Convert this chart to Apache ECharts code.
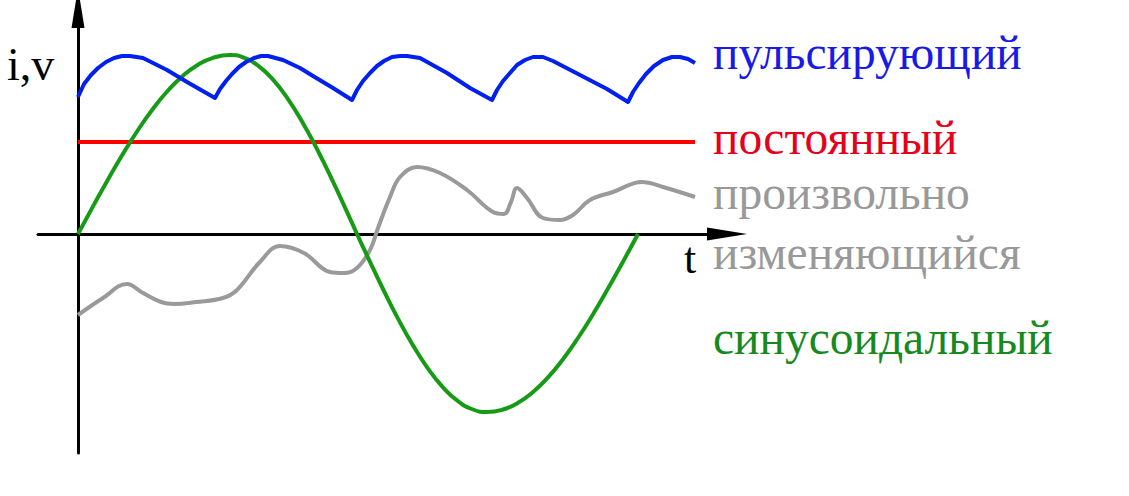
<!DOCTYPE html>
<html>
<head>
<meta charset="utf-8">
<script src="https://cdn.jsdelivr.net/npm/echarts@6/dist/echarts.min.js"></script>
<style>
html,body{margin:0;padding:0;background:#fff;}
#chart{width:1129px;height:496px;}
</style>
</head>
<body>
<div id="chart"></div>
<script>
// t (time units), value pairs
const pulsating = [
  [0,13.7],[0.6,15.0],[1.3,15.9],[2.0,16.6],[2.8,17.2],[3.6,17.6],[4.4,17.8],[5.2,17.8],
  [6.5,17.6],[8.9,16.4],[10.9,15.2],[13.7,13.6],
  [14.2,14.5],[14.8,15.3],[15.4,16.0],[16.1,16.7],[16.8,17.2],[17.6,17.6],[18.3,17.8],[19.0,17.8],
  [20.5,17.4],[22.2,16.6],[23.5,15.8],[25.5,14.6],[27.4,13.4],
  [27.9,14.4],[28.5,15.3],[29.2,16.1],[29.9,16.8],[30.6,17.3],[31.4,17.7],[32.2,17.8],[32.9,17.8],
  [34.2,17.6],[36.9,16.1],[39.2,14.6],[41.4,13.4],
  [41.9,14.4],[42.5,15.3],[43.2,16.1],[43.9,16.9],[44.7,17.4],[45.5,17.7],[46.5,17.7],
  [47.5,17.3],[50.2,15.9],[52.9,14.5],[55.0,13.2],
  [55.5,14.2],[56.1,15.1],[56.8,16.0],[57.6,16.8],[58.5,17.4],[59.4,17.7],[60.2,17.7],[61.0,17.5],[61.7,17.1]
];
const constant = [[0,9.2],[61.7,9.2]];
const arbitrary = [
  [0,-8.1],[2.5,-6.4],[4.9,-5.0],[6.5,-5.9],[8.3,-6.8],[9.6,-7.0],[11.8,-6.8],[14.5,-6.4],
  [15.9,-5.6],[18.1,-2.9],[20.2,-1.2],[22.6,-1.9],[25.2,-3.8],[26.6,-3.9],[27.9,-3.4],
  [29.2,-1.6],[30.0,0.6],[31.2,3.7],[32.2,5.7],[33.9,6.7],[36.2,6.1],[38.9,4.4],[41.5,2.2],
  [42.6,2.0],[43.3,3.2],[43.9,4.6],[44.9,3.6],[46.5,1.6],[48.2,1.4],[49.5,1.9],[51.2,3.4],
  [53.5,4.2],[56.4,5.2],[58.5,4.7],[61.7,3.7]
];
const sinusoidal = [
  [0,0],[1.5,2.76],[3,5.46],[4.5,8.03],[6,10.4],[7.5,12.53],[9,14.35],[10.5,15.83],[12,16.93],
  [13.5,17.62],[15.2,17.9],[16.5,17.67],[18,16.84],[19.5,15.43],[21,13.49],[22.5,11.08],
  [24,8.3],[25.5,5.23],[27,1.99],[27.9,0],[29,-2.36],[30.5,-5.5],[32,-8.46],[33.5,-11.14],
  [35,-13.46],[36.5,-15.34],[38,-16.72],[39.5,-17.55],[40.9,-17.8],[42.5,-17.55],[44,-16.88],
  [45.5,-15.8],[47,-14.33],[48.5,-12.52],[50,-10.4],[51.5,-8.03],[53,-5.46],[54.5,-2.77],[56,0]
];
const labels = {
  pulsating: 'пульсирующий',
  constant: 'постоянный',
  arbitrary1: 'произвольно',
  arbitrary2: 'изменяющийся',
  sinusoidal: 'синусоидальный',
  yName: 'i,v',
  xName: 't'
};

const chart = echarts.init(document.getElementById('chart'), null, {renderer: 'svg'});
const serif = '"Liberation Serif", "DejaVu Serif", serif';
const axisCommon = {
  type: 'value',
  splitLine: {show: false},
  axisTick: {show: false},
  axisLabel: {show: false}
};
const txt = (text, x, y, size, color) => ({
  type: 'text', x: x, y: y, z: 100,
  style: {text: text, font: size + 'px ' + serif, fill: color, textAlign: 'left', textVerticalAlign: 'middle'}
});
chart.setOption({
  animation: false,
  backgroundColor: '#ffffff',
  grid: {left: 38, right: 402, top: 8, bottom: 43},
  xAxis: Object.assign({}, axisCommon, {
    min: -4.0, max: 64.9,
    axisLine: {show: true, onZero: true, symbol: ['none', 'triangle'], symbolSize: [13, 40],
      lineStyle: {color: '#000', width: 3}}
  }),
  yAxis: Object.assign({}, axisCommon, {
    min: -21.9, max: 22.6,
    axisLine: {show: true, onZero: true, symbol: ['none', 'triangle'], symbolSize: [13, 40],
      lineStyle: {color: '#000', width: 3}}
  }),
  series: [
    {type: 'line', data: sinusoidal, showSymbol: false, smooth: true, lineStyle: {color: '#179b17', width: 4}, z: 3},
    {type: 'line', data: constant, showSymbol: false, lineStyle: {color: '#ff0000', width: 4}, z: 2},
    {type: 'line', data: arbitrary, showSymbol: false, smooth: 0.4, lineStyle: {color: '#9a9a9a', width: 4}, z: 2},
    {type: 'line', data: pulsating, showSymbol: false, smooth: false, lineStyle: {color: '#0020f0', width: 4, join: 'round'}, z: 4}
  ],
  graphic: [
    txt(labels.yName, 7, 64, 46, '#000'),
    txt(labels.xName, 684, 258, 44, '#000'),
    txt(labels.pulsating, 713, 53, 47.5, '#1a1ae6'),
    txt(labels.constant, 713, 138, 47.5, '#e6001a'),
    txt(labels.arbitrary1, 713, 193, 47.5, '#999999'),
    txt(labels.arbitrary2, 713, 253, 47.5, '#999999'),
    txt(labels.sinusoidal, 713, 338, 47.5, '#168a1e')
  ]
});
</script>
</body>
</html>
